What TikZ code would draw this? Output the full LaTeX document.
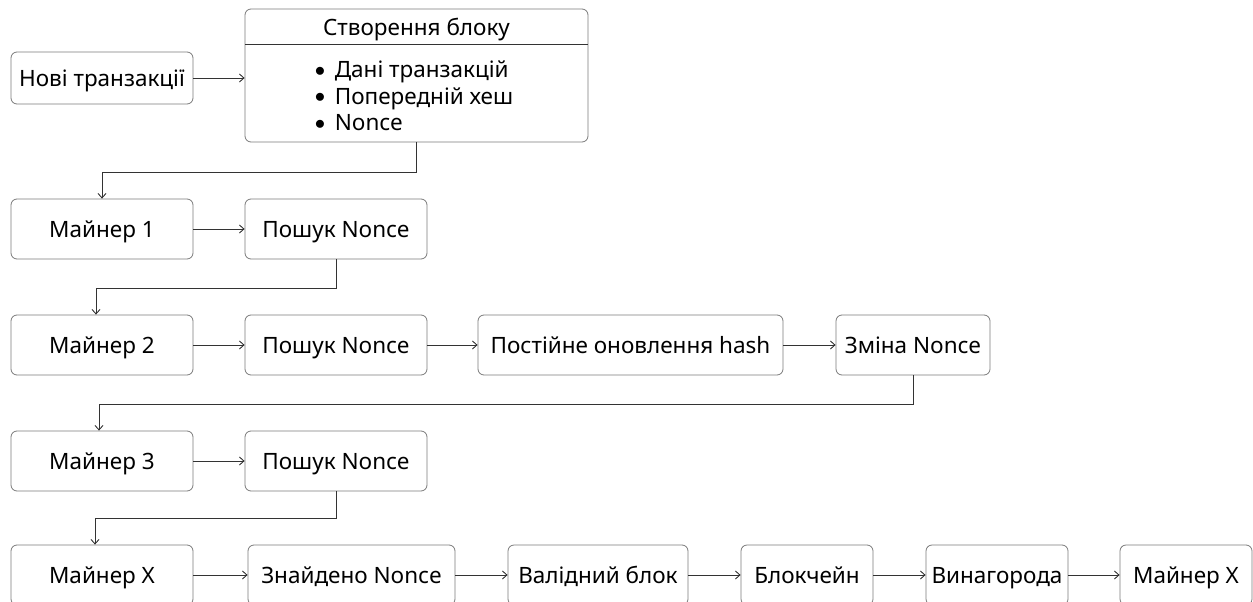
\documentclass[tikz,border=0pt]{standalone}
\usepackage{fontspec}
\setmainfont{Noto Sans}
\usepackage{tikz}
\usepackage{xcolor}
\usetikzlibrary{positioning,arrows.meta}

\definecolor{boxline}{HTML}{7A7A7A}
\definecolor{arrline}{HTML}{333333}

\newcommand{\bfont}{\fontsize{22.5}{26.5}\selectfont}
\newcommand{\itm}{\makebox[20pt][l]{\raisebox{1.5pt}{$\bullet$}}}

\tikzset{
  stepbox/.style={draw=boxline, line width=0.8pt, rounded corners=6pt,
    minimum height=60pt, inner sep=0pt, text height=16pt, text depth=0pt,
    font=\bfont},
  arr/.style={draw=arrline, line width=0.9pt, -{Straight Barb[length=4.5pt,width=8pt]}}
}

\begin{document}
\begin{tikzpicture}[x=1pt,y=-1pt]

\useasboundingbox (0,0) rectangle (1253,602);

% top row
\node[stepbox, minimum width=182pt, minimum height=52pt] (nt) at (102,78) {Нові транзакції};
\node[stepbox, minimum width=343pt, minimum height=133pt, text height=0pt] (blk) at (416.5,75.5) {};
\draw[draw=arrline, line width=0.9pt] (245,44) -- (588,44);
\node[font=\bfont, text height=16pt, text depth=0pt, inner sep=0pt] (blkt) at (416.5,28) {Створення блоку};
\node[font=\bfont, align=left, inner sep=0pt] (blkl) at (414,96)
  {\itm Дані транзакцій\\\itm Попередній хеш\\\itm Nonce};

% miner 1
\node[stepbox, minimum width=182pt] (m1) at (102,229) {Майнер 1};
\node[stepbox, minimum width=182pt] (p1) at (336,229) {Пошук Nonce};

% miner 2
\node[stepbox, minimum width=182pt] (m2) at (102,345) {Майнер 2};
\node[stepbox, minimum width=182pt] (p2) at (336,345) {Пошук Nonce};
\node[stepbox, minimum width=305pt] (upd) at (630.5,345) {Постійне оновлення hash};
\node[stepbox, minimum width=154pt] (chg) at (913,345) {Зміна Nonce};

% miner 3
\node[stepbox, minimum width=182pt] (m3) at (102,461) {Майнер 3};
\node[stepbox, minimum width=182pt] (p3) at (336,461) {Пошук Nonce};

% miner X
\node[stepbox, minimum width=182pt] (mx) at (102,575) {Майнер X};
\node[stepbox, minimum width=207pt] (fnd) at (351.5,575) {Знайдено Nonce};
\node[stepbox, minimum width=180pt] (val) at (598,575) {Валідний блок};
\node[stepbox, minimum width=132pt] (bc) at (807,575) {Блокчейн};
\node[stepbox, minimum width=142pt] (rw) at (997,575) {Винагорода};
\node[stepbox, minimum width=132pt] (mx2) at (1186,575) {Майнер X};

\draw[arr] (nt.east) -- (nt.east -| blk.west);
\draw[arr] (blk.south) -- ++(0,30) -| (m1.north);

\draw[arr] (m1) -- (p1);
\draw[arr] (p1.south) -- ++(0,29) -| ([xshift=-6pt]m2.north);

\draw[arr] (m2) -- (p2);
\draw[arr] (p2) -- (upd);
\draw[arr] (upd) -- (chg);
\draw[arr] (chg.south) -- ++(0,29) -| ([xshift=-3pt]m3.north);

\draw[arr] (m3) -- (p3);
\draw[arr] (p3.south) -- ++(0,27) -| ([xshift=-7pt]mx.north);

\draw[arr] (mx) -- (fnd);
\draw[arr] (fnd) -- (val);
\draw[arr] (val) -- (bc);
\draw[arr] (bc) -- (rw);
\draw[arr] (rw) -- (mx2);

\end{tikzpicture}
\end{document}
